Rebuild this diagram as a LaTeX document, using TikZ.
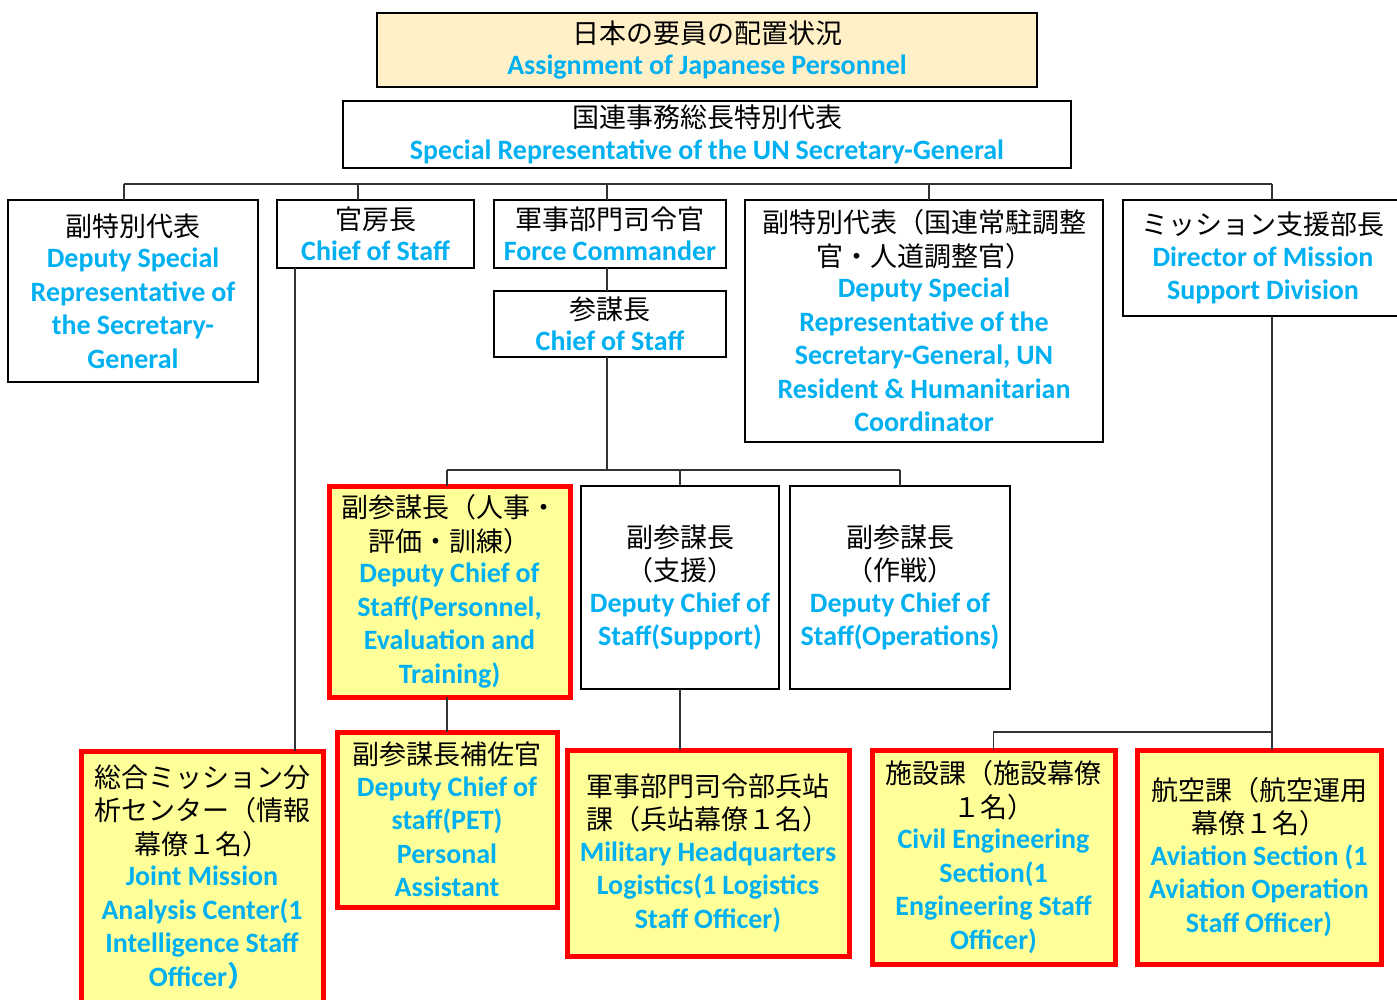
\documentclass[tikz,border=0pt]{standalone}
\usepackage{fontspec}
\newfontfamily\jpfont{Noto Sans CJK JP}
\newfontfamily\enfont{Carlito}
\definecolor{ublue}{RGB}{0,176,240}
\definecolor{ylw}{RGB}{255,255,153}
\definecolor{beige}{RGB}{255,240,200}
\definecolor{lred}{RGB}{255,0,0}
\newcommand\jl[1]{\raisebox{-2pt}{\jpfont #1}}
\newcommand\etxt[1]{{\enfont\bfseries\fontsize{28}{33.5}\selectfont\spaceskip=6pt\relax\color{ublue}#1}}
\tikzset{
  base/.style={inner sep=0pt, outer sep=0pt, align=center,
    font=\fontsize{27}{33.5}\selectfont},
  wbox/.style={base, draw=black, line width=2.5pt, fill=white},
  rbox/.style={base, draw=lred, line width=5pt, fill=ylw},
  conn/.style={draw=black!80, line width=1.3pt},
}
\begin{document}
\begin{tikzpicture}[x=1pt,y=-1pt]
\useasboundingbox (0,0) rectangle (1397,999);
% top
\node[wbox, fill=beige, minimum width=660, minimum height=74, text width=650] (top) at (707,50)
  {\jl{日本の要員の配置状況}\\\etxt{Assignment of Japanese Personnel}};
\node[wbox, minimum width=728, minimum height=67, text width=718] (srsg) at (707,134.5)
  {\jl{国連事務総長特別代表}\\\etxt{Special Representative of the UN Secretary-General}};
% row 2
\node[wbox, minimum width=250, minimum height=182, text width=240] (dsrsg) at (133,291)
  {\jl{副特別代表}\\\etxt{Deputy Special\\Representative of\\the Secretary-\\General}};
\node[wbox, minimum width=197, minimum height=68, text width=190] (cos) at (375.5,234)
  {\jl{官房長}\\\etxt{Chief of Staff}};
\node[wbox, minimum width=232, minimum height=68, text width=226] (fc) at (610,234)
  {\jl{軍事部門司令官}\\\etxt{Force Commander}};
\node[wbox, minimum width=232, minimum height=66, text width=226] (cos2) at (610,324)
  {\jl{参謀長}\\\etxt{Chief of Staff}};
\node[wbox, minimum width=358, minimum height=242, text width=350] (rc) at (924,321)
  {\jl{副特別代表（国連常駐調整}\\\jl{官・人道調整官）}\\\etxt{Deputy Special\\Representative of the\\Secretary-General, UN\\Resident \& Humanitarian\\Coordinator}};
\node[wbox, minimum width=280, minimum height=116, text width=272] (dms) at (1263,258)
  {\jl{ミッション支援部長}\\\etxt{Director of Mission\\Support Division}};
% row 3
\node[rbox, minimum width=241, minimum height=211, text width=235] (dcp) at (449.5,591.5)
  {\jl{副参謀長（人事・}\\\jl{評価・訓練）}\\\etxt{Deputy Chief of\\Staff(Personnel,\\Evaluation and\\Training)}};
\node[wbox, minimum width=198, minimum height=203, text width=194] (dcs) at (680,587.5)
  {\jl{副参謀長}\\\jl{（支援）}\\\etxt{Deputy Chief of\\Staff(Support)}};
\node[wbox, minimum width=220, minimum height=203, text width=216] (dco) at (900,587.5)
  {\jl{副参謀長}\\\jl{（作戦）}\\\etxt{Deputy Chief of\\Staff(Operations)}};
% row 4
\node[rbox, minimum width=242, minimum height=252, text width=236] (jmac) at (202,877)
  {\jl{総合ミッション分}\\\jl{析センター（情報}\\\jl{幕僚１名）}\\\etxt{Joint Mission\\Analysis Center(1\\Intelligence Staff\\Officer{\jpfont ）}}};
\node[rbox, minimum width=220, minimum height=175, text width=214] (pa) at (447,819.5)
  {\jl{副参謀長補佐官}\\\etxt{Deputy Chief of\\staff(PET)\\Personal\\Assistant}};
\node[rbox, minimum width=282, minimum height=206, text width=276] (mhq) at (708,853)
  {\jl{軍事部門司令部兵站}\\\jl{課（兵站幕僚１名）}\\\etxt{Military Headquarters\\Logistics(1 Logistics\\Staff Officer)}};
\node[rbox, minimum width=243, minimum height=214, text width=237] (civ) at (993.5,857)
  {\jl{施設課（施設幕僚}\\\jl{１名）}\\\etxt{Civil Engineering\\Section(1\\Engineering Staff\\Officer)}};
\node[rbox, minimum width=244, minimum height=214, text width=238] (avi) at (1259,857)
  {\jl{航空課（航空運用}\\\jl{幕僚１名）}\\\etxt{Aviation Section (1\\Aviation Operation\\Staff Officer)}};
% connectors
\coordinate (b1) at (124,184);
\coordinate (b2) at (358,184);
\coordinate (b3) at (607,184);
\coordinate (b4) at (929,184);
\coordinate (b5) at (1272,184);
\draw[conn] (b1) -- (b5);
\draw[conn] (b1) -- (b1 |- dsrsg.north);
\draw[conn] (b2) -- (b2 |- cos.north);
\draw[conn] (b3) -- (b3 |- fc.north);
\draw[conn] (b4) -- (b4 |- rc.north);
\draw[conn] (b5) -- (b5 |- dms.north);
\draw[conn] ([xshift=-3]fc.south) -- ([xshift=-3]cos2.north);
\coordinate (m1) at (447,470);
\coordinate (m2) at (680,470);
\coordinate (m3) at (900,470);
\draw[conn] ([xshift=-3]cos2.south) -- ([xshift=-3]cos2.south |- m1);
\draw[conn] (m1) -- (m3);
\draw[conn] (m1) -- (m1 |- dcp.north);
\draw[conn] (m2) -- (m2 |- dcs.north);
\draw[conn] (m3) -- (m3 |- dco.north);
\draw[conn] ([xshift=-80.5]cos.south) -- ([xshift=-80.5]cos.south |- jmac.north);
\draw[conn] ([xshift=-2.5]dcp.south) -- ([xshift=-2.5]dcp.south |- pa.north);
\draw[conn] (dcs.south) -- (mhq.north -| dcs.south);
\coordinate (br) at (1272,732);
\draw[conn] ([xshift=9]dms.south) -- ([xshift=9]dms.south |- avi.north);
\draw[conn] (br) -| (civ.north);
\end{tikzpicture}
\end{document}
